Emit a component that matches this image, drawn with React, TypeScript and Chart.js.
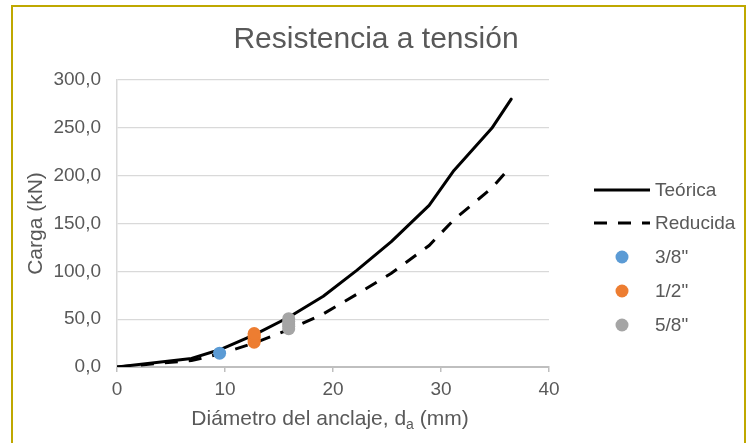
import React, { useEffect, useRef } from 'react';
import { Chart, registerables } from 'chart.js';

Chart.register(...registerables);

// ---- data ----
const chartTitle = 'Resistencia a tensión';
const yAxisTitle = 'Carga (kN)';
const xAxisTitleMain = 'Diámetro del anclaje, d';
const xAxisTitleSub = 'a';
const xAxisTitleEnd = ' (mm)';

const diameters = [0, 6.9, 9.5, 12.7, 15.9, 19.1, 22.2, 25.4, 28.9, 31.2, 34.7, 36.5];
const teorica = [0, 9, 18, 33.5, 52, 74, 101, 131, 169, 205.5, 249.5, 280];
const reducida = [0, 6.8, 13.5, 25, 39, 55.5, 76, 98, 127, 154, 187, 210];

const x38 = [9.5];
const y38 = [14.5];
const x12 = [12.7, 12.7, 12.7, 12.7, 12.7];
const y12 = [26, 28.5, 31, 33, 35];
const x58 = [15.9, 15.9, 15.9, 15.9, 15.9];
const y58 = [40, 42.5, 45, 47.5, 50.5];

const seriesLabels = ['Teórica', 'Reducida', '3/8"', '1/2"', '5/8"'];
const xTicks = [0, 10, 20, 30, 40];
const yTicks = [0, 50, 100, 150, 200, 250, 300];

const FONT = '"Liberation Sans", Arial, sans-serif';
const TEXT = '#595959';
const DASH = [13, 11];
const COLORS = ['#000000', '#000000', '#5B9BD5', '#ED7D31', '#A5A5A5'];

const zip = (xs: number[], ys: number[]) => xs.map((x, i) => ({ x, y: ys[i] }));

const overlayPlugin = {
  id: 'overlay',
  afterDraw(chart: any) {
    const ctx: CanvasRenderingContext2D = chart.ctx;
    const area = chart.chartArea;
    ctx.save();
    ctx.fillStyle = TEXT;

    // Title
    ctx.font = `30px ${FONT}`;
    ctx.textAlign = 'center';
    ctx.textBaseline = 'alphabetic';
    ctx.fillText(chartTitle, 376, 48);

    // Y axis title
    ctx.save();
    ctx.translate(41.5, (area.top + area.bottom) / 2);
    ctx.rotate(-Math.PI / 2);
    ctx.font = `21px ${FONT}`;
    ctx.textAlign = 'center';
    ctx.textBaseline = 'alphabetic';
    ctx.fillText(yAxisTitle, 0, 0);
    ctx.restore();

    // X axis title with subscript
    const mainFont = `21px ${FONT}`;
    const subFont = `14px ${FONT}`;
    ctx.font = mainFont;
    const w1 = ctx.measureText(xAxisTitleMain).width;
    const w3 = ctx.measureText(xAxisTitleEnd).width;
    ctx.font = subFont;
    const w2 = ctx.measureText(xAxisTitleSub).width;
    const total = w1 + w2 + w3;
    let xx = 330 - total / 2;
    const base = 425;
    ctx.textAlign = 'left';
    ctx.font = mainFont;
    ctx.fillText(xAxisTitleMain, xx, base);
    xx += w1;
    ctx.font = subFont;
    ctx.fillText(xAxisTitleSub, xx, base + 4);
    xx += w2;
    ctx.font = mainFont;
    ctx.fillText(xAxisTitleEnd, xx, base);

    // Legend
    const rows = [190, 223, 257, 291, 325];
    ctx.font = `19px ${FONT}`;
    ctx.textBaseline = 'middle';
    seriesLabels.forEach((label, i) => {
      const y = rows[i];
      const ds = chart.data.datasets[i];
      if (i < 2) {
        ctx.save();
        ctx.strokeStyle = ds.borderColor;
        ctx.lineWidth = 3;
        ctx.setLineDash(ds.borderDash || []);
        ctx.beginPath();
        ctx.moveTo(594, y);
        ctx.lineTo(650, y);
        ctx.stroke();
        ctx.restore();
      } else {
        ctx.beginPath();
        ctx.fillStyle = ds.backgroundColor;
        ctx.arc(622, y, 6.5, 0, Math.PI * 2);
        ctx.fill();
      }
      ctx.fillStyle = TEXT;
      ctx.fillText(label, 655, y + 1);
    });
    ctx.restore();
  },
};

export default function App() {
  const ref = useRef<HTMLCanvasElement>(null);

  useEffect(() => {
    if (!ref.current) return;
    Chart.defaults.font.family = FONT;
    const chart = new Chart(ref.current, {
      type: 'scatter',
      data: {
        datasets: [
          {
            label: seriesLabels[0],
            data: zip(diameters, teorica),
            showLine: true,
            borderColor: COLORS[0],
            backgroundColor: COLORS[0],
            borderWidth: 3,
            pointRadius: 0,
            tension: 0,
            borderJoinStyle: 'round',
            borderCapStyle: 'round',
            order: 2,
          },
          {
            label: seriesLabels[1],
            data: zip(diameters, reducida),
            showLine: true,
            borderColor: COLORS[1],
            backgroundColor: COLORS[1],
            borderWidth: 3,
            borderDash: DASH,
            pointRadius: 0,
            tension: 0,
            order: 3,
          },
          {
            label: seriesLabels[2],
            data: zip(x38, y38),
            backgroundColor: COLORS[2],
            borderColor: COLORS[2],
            borderWidth: 0,
            pointRadius: 6.5,
            order: 1,
          },
          {
            label: seriesLabels[3],
            data: zip(x12, y12),
            backgroundColor: COLORS[3],
            borderColor: COLORS[3],
            borderWidth: 0,
            pointRadius: 6.5,
            order: 1,
          },
          {
            label: seriesLabels[4],
            data: zip(x58, y58),
            backgroundColor: COLORS[4],
            borderColor: COLORS[4],
            borderWidth: 0,
            pointRadius: 6.5,
            order: 1,
          },
        ],
      },
      options: {
        responsive: false,
        animation: false,
        devicePixelRatio: 1,
        layout: { padding: { left: 0, top: 80, right: 201, bottom: 0 } },
        plugins: {
          legend: { display: false },
          title: { display: false },
          tooltip: { enabled: false },
        },
        scales: {
          x: {
            type: 'linear',
            min: xTicks[0],
            max: xTicks[xTicks.length - 1],
            afterBuildTicks: (s: any) => {
              s.ticks = xTicks.map((v) => ({ value: v }));
            },
            ticks: { color: TEXT, font: { size: 19 }, padding: 6, maxRotation: 0 },
            grid: {
              drawOnChartArea: false,
              drawTicks: true,
              tickLength: 5,
              color: '#BFBFBF',
              lineWidth: 1.5,
            },
            border: { color: '#BFBFBF', width: 2 },
            afterFit: (s: any) => {
              s.height = 76;
            },
          },
          y: {
            type: 'linear',
            min: yTicks[0],
            max: yTicks[yTicks.length - 1],
            afterBuildTicks: (s: any) => {
              s.ticks = yTicks.map((v) => ({ value: v }));
            },
            ticks: {
              color: TEXT,
              font: { size: 19 },
              padding: 16,
              callback: (v: any) => Number(v).toFixed(1).replace('.', ','),
            },
            grid: { color: '#D9D9D9', lineWidth: 1.3, drawTicks: false },
            border: { color: '#D9D9D9', width: 1.5 },
            afterFit: (s: any) => {
              s.width = 117;
            },
          },
        },
      },
      plugins: [overlayPlugin],
    } as any);
    return () => chart.destroy();
  }, []);

  return (
    <div style={{ position: 'relative', width: 750, height: 443, overflow: 'hidden', background: '#ffffff' }}>
      <style>{'body{margin:0}'}</style>
      <div
        style={{
          position: 'absolute',
          left: 11,
          top: 5,
          width: 735,
          height: 470,
          border: '2px solid #BFA800',
          boxSizing: 'border-box',
        }}
      />
      <canvas
        ref={ref}
        width={750}
        height={443}
        style={{ position: 'absolute', left: 0, top: 0, width: 750, height: 443 }}
      />
    </div>
  );
}
